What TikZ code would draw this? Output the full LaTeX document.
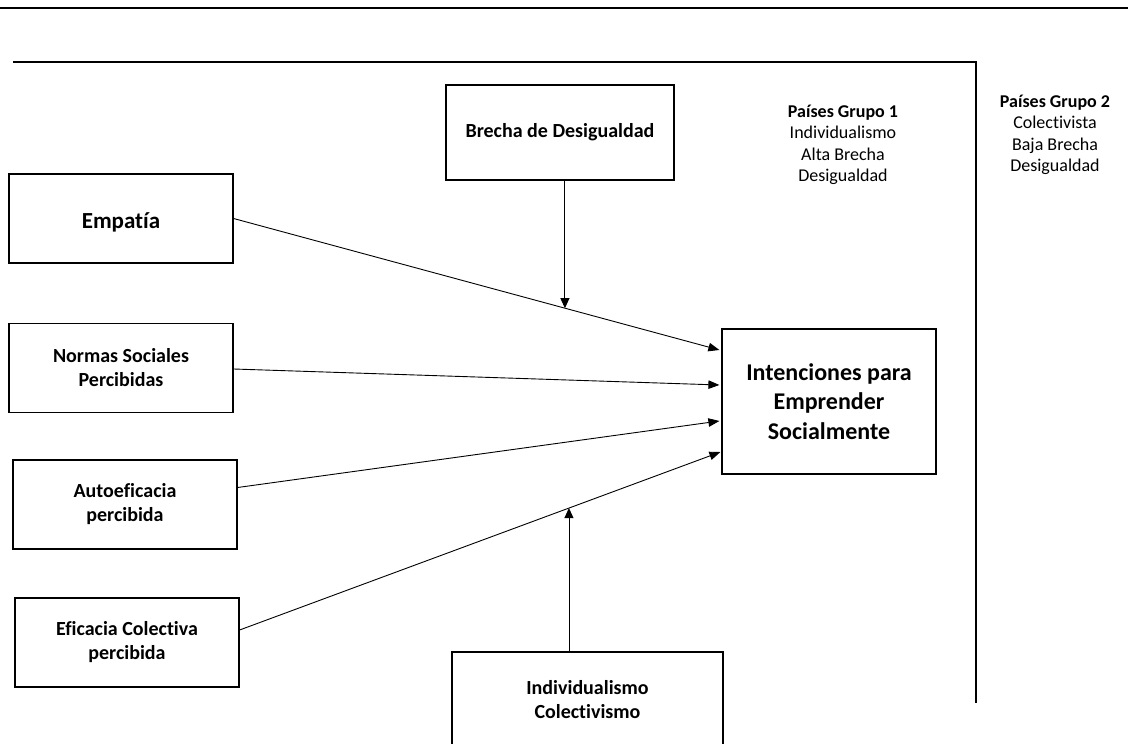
\documentclass[tikz,border=0pt]{standalone}
\usepackage{fontspec}
\setmainfont[Ligatures=NoCommon]{Carlito}
\usetikzlibrary{arrows.meta,calc}
\tikzset{
  box/.style={draw=black, line width=1.2pt, inner sep=0pt, align=center,
    minimum width=224pt, minimum height=89pt,
    font=\bfseries\fontsize{20}{24}\selectfont},
  arr/.style={draw=black, line width=0.9pt, -{Triangle[length=11pt,width=8.5pt]}},
  sidetext/.style={inner sep=0pt, align=center, font=\fontsize{18}{21.5}\selectfont},
  rule/.style={draw=black, line width=1.3pt}
}
\begin{document}
\begin{tikzpicture}[x=1pt,y=-1pt]
\clip (0,0) rectangle (1128,744);
\fill[white] (0,0) rectangle (1128,744);

% rules / frame
\draw[rule, line width=1.6pt] (0,8) -- (1128,8);
\draw[rule] (13,62) -- (976,62) -- (976,703);

% boxes
\node[box, minimum width=228pt, minimum height=95pt] (brecha) at (560,132.5) {Brecha de Desigualdad};
\node[box, font=\bfseries\fontsize{23}{27}\selectfont, text height=19pt, text depth=0pt] (emp) at (121,218.5) {Empatía};
\node[box] (norm) at (121,368) {Normas Sociales\\Percibidas};
\node[box] (auto) at (125,504.5) {Autoeficacia\\percibida};
\node[box] (efic) at (127,642.5) {Eficacia Colectiva\\percibida};
\node[box, minimum width=214pt, minimum height=145pt, font=\bfseries\fontsize{24}{29.5}\selectfont] (int) at (829,401.5) {Intenciones para\\Emprender\\Socialmente};
\node[box, minimum width=271pt, minimum height=96pt] (indiv) at (587.5,700) {Individualismo\\Colectivismo};

% side texts
\node[sidetext] (g1) at (843,145) {\textbf{Países Grupo 1}\\Individualismo\\Alta Brecha\\Desigualdad};
\node[sidetext] (g2) at (1055,135) {\textbf{Países Grupo 2}\\Colectivista\\Baja Brecha\\Desigualdad};

% connector endpoints on Intenciones
\coordinate (e1) at ($(int.west)+(-2,-51.5)$);
\coordinate (e2) at ($(int.west)+(-2,-16.5)$);
\coordinate (e3) at ($(int.west)+(-2,19.5)$);
\coordinate (e4) at ($(int.west)+(-1,50.5)$);
\coordinate (s2) at ($(norm.east)+(0,1)$);
\coordinate (s3) at ($(auto.east)+(0,-17)$);
\coordinate (s4) at ($(efic.east)+(0,-12.5)$);

\draw[arr] (emp.east) -- (e1);
\draw[arr] (s2) -- (e2);
\draw[arr] (s3) -- (e3);
\draw[arr] (s4) -- (e4);

% moderators
\coordinate (m1) at ($(emp.east)!0.682!(e1)$);
\coordinate (m2) at ($(s4)!0.685!(e4)$);
\draw[arr, -{Triangle[length=10pt,width=9pt]}] (brecha.south -| m1) -- (m1);
\draw[arr, -{Triangle[length=10pt,width=9pt]}] (indiv.north -| m2) -- (m2);
\end{tikzpicture}
\end{document}
